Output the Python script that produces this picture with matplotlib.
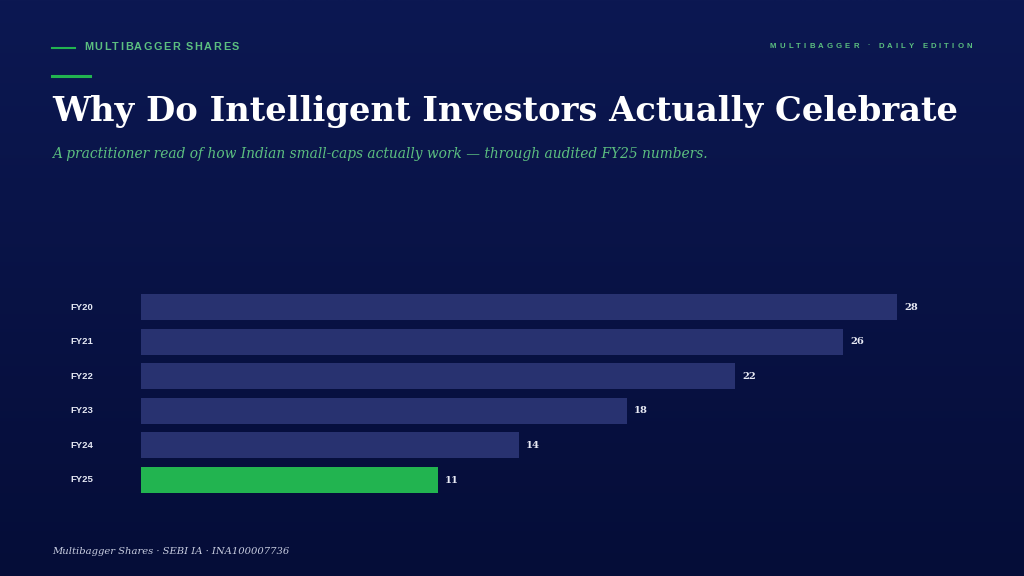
import numpy as np
import matplotlib
matplotlib.use("Agg")
import matplotlib.pyplot as plt

# data
years = ["FY20", "FY21", "FY22", "FY23", "FY24", "FY25"]
values = [28, 26, 22, 18, 14, 11]
highlight = "FY25"

title = "Why Do Intelligent Investors Actually Celebrate"
subtitle = "A practitioner read of how Indian small-caps actually work \u2014 through audited FY25 numbers."
kicker = "MULTIBAGGER SHARES"
edition = "MULTIBAGGER \u00b7 DAILY EDITION"
footer = "Multibagger Shares \u00b7 SEBI IA \u00b7 INA100007736"

W, H = 1024, 576
BG_TOP = "#0c1852"
BG_BOT = "#050d38"
BAR = "#283270"
GREEN = "#22b450"
ACCENT = "#5cbf80"

fig = plt.figure(figsize=(W / 100, H / 100), dpi=100)

# background gradient
bg = fig.add_axes([0, 0, 1, 1], zorder=-10)
c0 = np.array(matplotlib.colors.to_rgb(BG_TOP))
c1 = np.array(matplotlib.colors.to_rgb(BG_BOT))
t = np.linspace(0, 1, 256)[:, None, None]
grad = c0 * (1 - t) + c1 * t
bg.imshow(np.repeat(grad, 2, axis=1), aspect="auto", extent=[0, 1, 0, 1])
bg.axis("off")

renderer = fig.canvas.get_renderer()


def px(x, y):
    return x / W, 1 - y / H


def fit_text(x, y, s, width_px, **kw):
    txt = fig.text(*px(x, y), s, fontsize=20, **kw)
    w = txt.get_window_extent(renderer).width
    txt.set_fontsize(20 * width_px / w)
    return txt


def spaced_text(x, y, s, track, **kw):
    for ch in s:
        txt = fig.text(*px(x, y), ch, va="center", ha="left", **kw)
        if ch == " ":
            w = txt.get_fontsize() * 100 / 72 * 0.28
        else:
            w = txt.get_window_extent(renderer).width
        x += w + track


# header
fig.add_artist(plt.Line2D([52 / W, 75 / W], [1 - 48 / H] * 2, color=GREEN, lw=1.5))
spaced_text(84, 47, kicker, 1.5, color=ACCENT, fontsize=7.8, fontweight="bold",
            family="Liberation Sans")
spaced_text(770, 46, edition, 3.1, color=ACCENT, fontsize=5.6, fontweight="bold",
            family="Liberation Sans")
fig.add_artist(plt.Line2D([52 / W, 90 / W], [1 - 76 / H] * 2, color=GREEN, lw=2.2))

fit_text(52, 111, title, 908, color="white", fontweight="bold", family="DejaVu Serif",
         va="center", ha="left")
fit_text(52, 154, subtitle, 653, color=ACCENT, style="italic", family="DejaVu Serif",
         va="center", ha="left")
fit_text(52, 551, footer, 236, color="#c8cde0", style="italic", family="DejaVu Serif",
         va="center", ha="left")

# bars
pitch = 34.6
top_px = 307 - pitch / 2
bot_px = top_px + pitch * len(years)
ax = fig.add_axes([141 / W, 1 - bot_px / H, 810 / W, (bot_px - top_px) / H])
ax.set_facecolor("none")
y = np.arange(len(years))
colors = [GREEN if yr == highlight else BAR for yr in years]
ax.barh(y, values, height=0.75, color=colors)
ax.set_xlim(0, 30)
ax.set_ylim(len(years) - 0.5, -0.5)
ax.axis("off")
for yi, v in zip(y, values):
    ax.annotate(str(v), (v, yi), xytext=(5, 0), textcoords="offset points",
                va="center", ha="left", color="#e8eaf4", fontsize=7.2,
                fontweight="bold", family="DejaVu Serif")
for yi, yr in zip(y, years):
    fig.text(70 / W, 1 - (307 + yi * pitch) / H, yr, va="center", ha="left",
             color="#e6e9f4", fontsize=6.8, fontweight="bold", family="Liberation Sans")

fig.savefig("out.png", dpi=100)
